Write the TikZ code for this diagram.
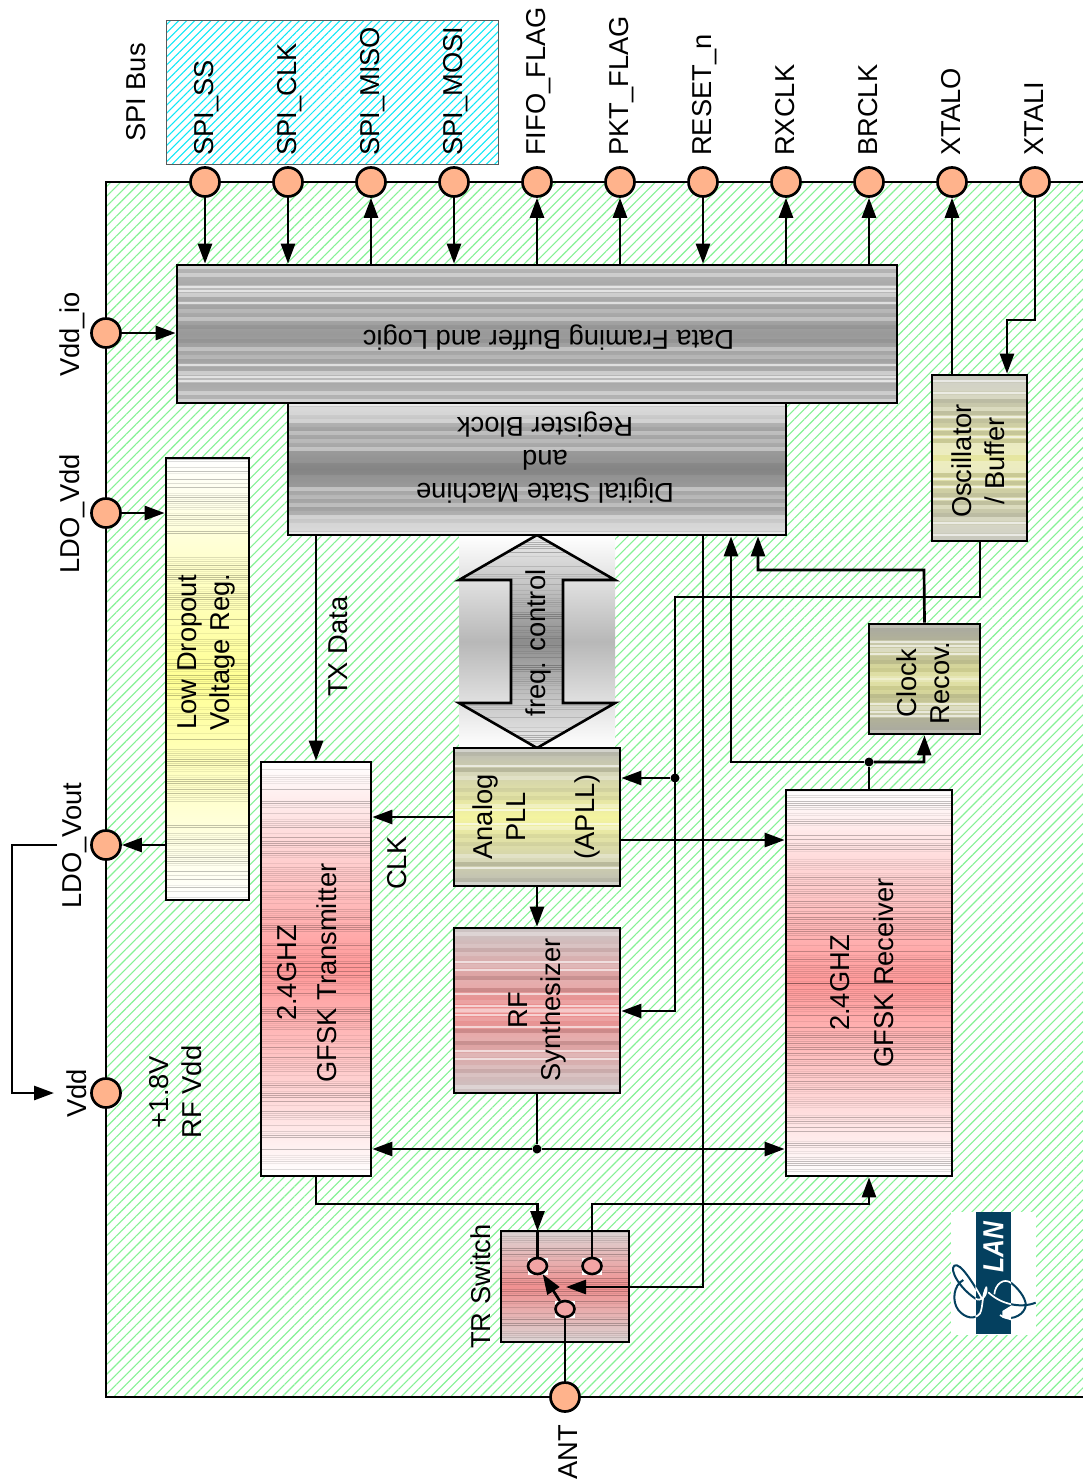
\documentclass[tikz,border=0pt]{standalone}
\usepackage{fontspec}
\setmainfont{Liberation Sans}
\usetikzlibrary{arrows.meta,patterns.meta,calc,shapes.geometric}
\definecolor{pinfill}{HTML}{FFB38C}
\definecolor{hatchgreen}{HTML}{84F294}
\definecolor{hatchcyan}{HTML}{0CE8F8}
\definecolor{lognavy}{HTML}{04405F}
\definecolor{oscedge}{HTML}{C8C8C0}\definecolor{oscmid}{HTML}{E6E6A0}
\definecolor{crvedge}{HTML}{BCBCB4}\definecolor{crvmid}{HTML}{DCDC92}
\definecolor{plledge}{HTML}{BCBCB4}\definecolor{pllmid}{HTML}{F4F4A0}
\definecolor{rfsedge}{HTML}{CCC4C4}\definecolor{rfsmid}{HTML}{EC8C8C}
\definecolor{trsedge}{HTML}{DCD4D4}\definecolor{trsmid}{HTML}{F09090}
\definecolor{swfill}{HTML}{F2A4A4}
\pgfdeclareverticalshading{fqshade}{100bp}{color(0bp)=(white!92!black); color(25bp)=(white!92!black); color(36bp)=(white!78!black); color(50bp)=(white!55!black); color(64bp)=(white!78!black); color(75bp)=(white!92!black); color(100bp)=(white!92!black)}
% mirrored horizontal stripes: fine dark lines
\newcommand\bandmeasure{%
  \pgfpointanchor{path picture bounding box}{north}\pgfgetlastxy{\bxa}{\bna}%
  \pgfpointanchor{path picture bounding box}{south}\pgfgetlastxy{\bxa}{\bsa}%
  \pgfmathtruncatemacro{\bhh}{(\bna-\bsa)/2}%
}
\newcommand\bandrow[3]{% position, width, style
  \draw[#3,line width=#2pt] ([yshift=#1 pt]path picture bounding box.south west) -- ([yshift=#1 pt]path picture bounding box.south east);
  \draw[#3,line width=#2pt] ([yshift=-#1 pt]path picture bounding box.north west) -- ([yshift=-#1 pt]path picture bounding box.north east);
}
\newcommand\bandthin{%
  \bandmeasure
  \foreach \bk in {1,3,...,\bhh}{%
    \pgfmathrandominteger{\brr}{0}{4}%
    \ifcase\brr \bandrow{\bk}{1}{black,opacity=.24}%
    \or \bandrow{\bk}{1}{black,opacity=.13}%
    \or \bandrow{\bk}{1}{black,opacity=.07}%
    \else\fi
  }%
}
\newcommand\bandwide{%
  \bandmeasure
  \foreach \bk in {2,6,...,\bhh}{%
    \pgfmathrandominteger{\brr}{0}{5}%
    \ifcase\brr \bandrow{\bk}{4}{white,opacity=.32}%
    \or \bandrow{\bk}{4}{black,opacity=.10}%
    \or \bandrow{\bk}{4}{white,opacity=.15}%
    \or \bandrow{\bk}{4}{black,opacity=.05}%
    \or \bandrow{\bk}{1.4}{white,opacity=.6}%
    \else\fi
  }%
}
\tikzset{
  x=1pt,y=-1pt,
  wire/.style={line width=2.7pt,black},
  arr/.style={wire,-{Triangle[length=20pt,width=14pt]}},
  pin/.style={circle,draw=black,line width=2.7pt,fill=pinfill,minimum size=29pt,inner sep=0pt},
  dotj/.style={circle,fill=black,minimum size=9pt,inner sep=0pt},
  swc/.style={ellipse,draw=black,line width=2.6pt,fill=#1,minimum width=19pt,minimum height=16pt,inner sep=0pt},
  swbg/.style={rectangle,fill=white,minimum width=20pt,minimum height=17pt,inner sep=0pt},
  block/.style n args={5}{rectangle,draw=black,line width=2.7pt,inner sep=0pt,
     minimum width=#1 pt,minimum height=#2 pt,
     top color=#3,bottom color=#3,middle color=#4,
     path picture={#5}},
  lab/.style={font=\fontsize{27.3}{33}\selectfont,align=center,inner sep=0pt,rotate=90,black},
  labf/.style={font=\fontsize{27.3}{33}\selectfont,align=center,inner sep=0pt,rotate=180,black},
  pinlab/.style={font=\fontsize{27.3}{33}\selectfont,inner sep=0pt,rotate=90,anchor=base west,black},
}
\begin{document}
\begin{tikzpicture}
\pgfmathsetseed{4242}
\useasboundingbox (0,0) rectangle (1082,1481);
% chip body
\path[fill=white] (106,182) rectangle (1100,1397);
\path[pattern={Lines[angle=45,distance=7pt,line width=1.1pt]},pattern color=hatchgreen] (106,182) rectangle (1100,1397);
\draw[wire] (1100,182) -- (106,182) -- (106,1397) -- (1100,1397);
% SPI box
\node[rectangle,fill=white,minimum width=332pt,minimum height=144pt,inner sep=0pt] (spibg) at (332,92) {};
\node[rectangle,draw=black!65,line width=1pt,pattern={Lines[angle=45,distance=5.7pt,line width=1.05pt]},pattern color=hatchcyan,minimum width=332pt,minimum height=144pt,inner sep=0pt] (spibox) at (332,92) {};
% freq control panel
\node[rectangle,inner sep=0pt,minimum width=156pt,minimum height=213pt,top color=white,bottom color=white,middle color=black!28] (fpanel) at (537,641.5) {};
\draw[line width=2.6pt,shading=fqshade,path picture={\bandthin}]
  (537,535) -- (615,580) -- (563,580) -- (563,703) -- (615,703) -- (537,748) -- (459,703) -- (511,703) -- (511,580) -- (459,580) -- cycle;
% blocks
\node[block={720}{138}{black!20}{black!40}{\bandwide}] (data) at (537,334) {};
\node[block={498}{132}{black!20}{black!42}{\bandwide}] (dsm) at (537,469) {};
\node[block={95}{166}{oscedge}{oscmid}{\bandwide}] (osc) at (979.5,458) {};
\node[block={83}{442}{white}{yellow!42}{\bandthin}] (ldo) at (207.5,679) {};
\node[block={110}{414}{white}{red!40}{\bandthin}] (tx) at (316,969) {};
\node[block={166}{138}{plledge}{pllmid}{\bandwide}] (pll) at (537,817) {};
\node[block={166}{165}{rfsedge}{rfsmid}{\bandwide}] (rfs) at (537,1010.5) {};
\node[block={166}{386}{white}{red!40}{\bandthin}] (rx) at (869,983) {};
\node[block={111}{110}{crvedge}{crvmid}{\bandwide}] (crv) at (924.5,679) {};
\node[block={128}{111}{trsedge}{trsmid}{\bandthin}] (trs) at (565,1286.5) {};
% pins
\foreach \nm/\px in {pa/205,pb/288,pc/371,pd/454,pe/537,pf/620,pg/703,ph/786,pi/869,pj/952,pk/1035}
  \node[pin] (\nm) at (\px,182) {};
\node[pin] (vio) at (106,333) {};
\node[pin] (lvd) at (106,513) {};
\node[pin] (lvo) at (106,845) {};
\node[pin] (vdd) at (106,1093) {};
\node[pin] (ant) at (565,1397) {};
% pin labels
\node[pinlab] (tspi) at (145,142) {SPI Bus};
\node[pinlab] (t1) at (213,156) {SPI\_SS};
\node[pinlab] (t2) at (296,156) {SPI\_CLK};
\node[pinlab] (t3) at (379,156) {SPI\_MISO};
\node[pinlab] (t4) at (462,156) {SPI\_MOSI};
\node[pinlab] (t5) at (545,156) {FIFO\_FLAG};
\node[pinlab] (t6) at (628,156) {PKT\_FLAG};
\node[pinlab] (t7) at (711,156) {RESET\_n};
\node[pinlab] (t8) at (794,156) {RXCLK};
\node[pinlab] (t9) at (877,156) {BRCLK};
\node[pinlab] (t10) at (960,156) {XTALO};
\node[pinlab] (t11) at (1043,156) {XTALI};
\node[pinlab] (t12) at (79,377) {Vdd\_io};
\node[pinlab] (t13) at (79,574) {LDO\_Vdd};
\node[pinlab] (t14) at (81,909) {LDO\_Vout};
\node[pinlab] (t15) at (86,1118) {Vdd};
\node[pinlab] (t16) at (577,1480) {ANT};
\node[pinlab] (t17) at (490,1349) {TR Switch};
\node[pinlab] (t18) at (347,697) {TX Data};
\node[pinlab] (t19) at (406,890) {CLK};
\node[lab] (t20) at (176,1092) {+1.8V\\RF Vdd};
% block labels
\node[labf] (ldata) at (548.5,338) {Data Framing Buffer and Logic};
\node[labf] (ldsm) at (545,458) {Digital State Machine\\and\\Register Block};
\node[lab] (losc) at (978,461) {Oscillator\\/ Buffer};
\node[lab] (lldo) at (206,652) {Low Dropout\\Voltage Reg.};
\node[lab] (ltx) at (307,973) {2.4GHZ\\[7pt]GFSK Transmitter};
\node[lab] (lpll) at (536.5,817) {Analog\\PLL\\ \\[3pt](APLL)};
\node[lab] (lrfs) at (537,1010) {RF\\Synthesizer};
\node[lab] (lrx) at (862,973) {2.4GHZ\hspace*{20pt}\\[11pt]GFSK Receiver};
\node[lab] (lcrv) at (923,683) {Clock\\Recov.};
\node[lab] (lfq) at (538.5,643) {freq. control};
% junctions and free ends
\node[dotj] (jpll) at (675,778) {};
\node[dotj] (jrx) at (869,762) {};
\node[dotj] (jrf) at (537,1149) {};
\coordinate (voutend) at (57,845);
\coordinate (vout) at (12,845);
\coordinate (vin) at (12,1093);
\coordinate (vinend) at (54,1093);
% top pin connectors
\draw[arr] (pa) -- (pa |- data.north);
\draw[arr] (pb) -- (pb |- data.north);
\draw[arr] (pc |- data.north) -- (pc);
\draw[arr] (pd) -- (pd |- data.north);
\draw[arr] (pe |- data.north) -- (pe);
\draw[arr] (pf |- data.north) -- (pf);
\draw[arr] (pg) -- (pg |- data.north);
\draw[arr] (ph |- data.north) -- (ph);
\draw[arr] (pi |- data.north) -- (pi);
\draw[arr] (pj |- osc.north) -- (pj);
\coordinate (xa) at (1035,320);
\coordinate (xb) at (1007,320);
\draw[arr] (pk) -- (xa) -- (xb) -- (xb |- osc.north);
% left pins
\draw[arr] (vio) -- (vio -| data.west);
\draw[arr] (lvd) -- (lvd -| ldo.west);
\draw[arr] (lvo -| ldo.west) -- (lvo);
\draw[arr] (voutend) -- (vout) -- (vin) -- (vinend);
% internal
\coordinate (txd) at (316,535);
\draw[arr] (txd) -- (txd |- tx.north);
\coordinate (clkp) at (454,817);
\draw[arr] (clkp) -- (clkp -| tx.east);
\draw[arr] (pll.south) -- (rfs.north);
\coordinate (prx) at (620,840);
\draw[arr] (prx) -- (prx -| rx.west);
% oscillator output
\coordinate (oa) at (980,541);
\coordinate (ob) at (980,597);
\coordinate (oc) at (675,597);
\coordinate (od) at (675,1011);
\draw[arr] (oa) -- (ob) -- (oc) -- (od) -- (od -| rfs.east);
\draw[arr] (jpll) -- (jpll -| pll.east);
% reset to switch
\coordinate (ra) at (703,535);
\coordinate (rb) at (703,1287);
\coordinate (rc) at (566,1287);
% clock recovery
\coordinate (ca) at (924,570);
\coordinate (cb) at (758,570);
\draw[arr] (crv.north) -- (ca) -- (cb) -- (cb |- dsm.south);
% rx data
\coordinate (ma) at (731,762);
\coordinate (mb) at (924,762);
\draw[wire] (jrx |- rx.north) -- (jrx);
\draw[arr] (jrx) -- (ma) -- (ma |- dsm.south);
\draw[arr] (jrx) -- (mb) -- (crv.south);
% synth to tx rx
\draw[wire] (rfs.south) -- (jrf);
\draw[arr] (jrf) -- (jrf -| tx.east);
\draw[arr] (jrf) -- (jrf -| rx.west);
% switch
\node[swbg] (ga) at (537.5,1266) {};
\node[swbg] (gb) at (592,1266) {};
\node[swbg] (gc) at (565,1309) {};
\node[swc=swfill] (sa) at (537.5,1266) {};
\node[swc=swfill] (sb) at (592,1266) {};
\node[swc=swfill] (sc) at (565,1309) {};
\draw[arr] (ra) -- (rb) -- (rc);
\coordinate (ta) at (316,1204);
\coordinate (tb) at (537.5,1204);
\coordinate (tc) at (537.5,1231);
\draw[arr] (ta |- tx.south) -- (ta) -- (tb) -- (tc);
\draw[wire] (tc) -- (sa);
\coordinate (sd) at (592,1204);
\coordinate (se) at (869,1204);
\draw[arr] (sb) -- (sd) -- (se) -- (se |- rx.south);
\draw[arr] (sc) -- (sa);
\draw[wire] (sc) -- (ant);
% logo
\path[fill=white] (951,1212) rectangle (1036,1335);
\path[fill=lognavy] (976,1212) rectangle (1011,1334);
\begin{scope}[shift={(945,1205)},x=.3333pt,y=-.3333pt]
  \def\swirls{
    (112,283) .. controls (85,235) and (45,170) .. (28,182) .. controls (12,195) and (45,250) .. (90,280) .. controls (108,292) and (125,275) .. (125,250)
    (55,225) .. controls (25,240) and (20,290) .. (40,315) .. controls (60,340) and (90,345) .. (105,325) .. controls (115,305) and (110,270) .. (125,245)
    (148,268) .. controls (150,240) and (175,215) .. (200,235) .. controls (225,255) and (250,290) .. (240,310) .. controls (230,335) and (190,350) .. (165,330)
    (130,262) .. controls (170,300) and (230,310) .. (272,293)}
  \path[fill=white] (198,302) -- (172,318) -- (172,338) -- (198,346) -- cycle;
  \begin{scope}
    \clip (15,170) rectangle (92,360) (198,170) rectangle (280,360);
    \draw[lognavy,line width=2pt] \swirls;
  \end{scope}
  \begin{scope}
    \clip (92,170) rectangle (198,360);
    \draw[white,line width=1.7pt] \swirls;
  \end{scope}
\end{scope}
\node[font=\fontsize{29}{30}\selectfont\bfseries\itshape,white,rotate=90,xscale=.85,inner sep=0pt] (loglan) at (993.5,1247.5) {LAN};
\end{tikzpicture}
\end{document}
